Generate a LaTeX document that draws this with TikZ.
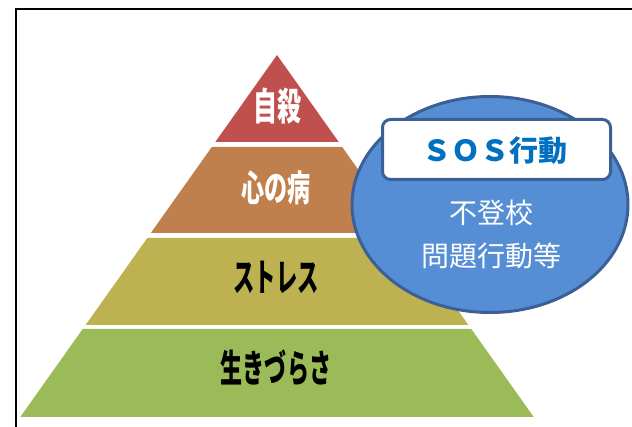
\documentclass[tikz,border=0pt]{standalone}
\usepackage{fontspec}
\usepackage{graphicx}
\newfontfamily\jp{Noto Sans CJK JP}
\definecolor{lred}{RGB}{192,80,77}
\definecolor{lorange}{RGB}{192,128,77}
\definecolor{lolive}{RGB}{190,177,82}
\definecolor{lgreen}{RGB}{155,187,89}
\definecolor{eblue}{RGB}{85,142,213}
\definecolor{edark}{RGB}{60,96,150}
\definecolor{sosblue}{RGB}{0,112,192}
\tikzset{
  lbl/.style={inner sep=0pt, font=\jp\bfseries},
  etext/.style={inner sep=0pt, font=\jp\fontsize{28}{43}\selectfont, text=white, align=center},
}
\newcommand{\cond}[2]{\scalebox{#1}[1]{#2}}
\begin{document}
\begin{tikzpicture}[x=1pt,y=-1pt]
\useasboundingbox (0,0) rectangle (632,427);
\fill[white] (0,0) rectangle (632,427);
% frame
\draw[line width=1.5pt] (16,427) -- (16,9) -- (632,9);
% pyramid layers
\fill[lred] (277,55) -- (338.7,142) -- (215.3,142) -- cycle;
\fill[lorange] (211.8,147) -- (342.2,147) -- (403.2,233) -- (150.8,233) -- cycle;
\fill[lolive] (147.3,238) -- (406.7,238) -- (468.4,325) -- (85.6,325) -- cycle;
\fill[lgreen] (82.7,329) -- (471.3,329) -- (533.7,417) -- (20.3,417) -- cycle;
% labels
\node[lbl, text=white, font=\jp\bfseries\fontsize{38}{38}\selectfont] (jisatsu) at (277,106) {\cond{0.63}{自殺}};
\node[lbl, text=white, font=\jp\bfseries\fontsize{36}{36}\selectfont] (kokoro) at (276,188) {\cond{0.64}{心の病}};
\node[lbl, text=black, font=\jp\bfseries\fontsize{38}{38}\selectfont] (stress) at (276,277) {\cond{0.56}{ストレス}};
\node[lbl, text=black, font=\jp\bfseries\fontsize{38}{38}\selectfont] (ikizurasa) at (276,368) {\cond{0.58}{生きづらさ}};
% SOS ellipse
\draw[fill=eblue, draw=edark, line width=3pt] (490,204.5) ellipse [x radius=138, y radius=108];
\node[draw=edark, fill=white, line width=3pt, rounded corners=8pt, minimum width=228pt, minimum height=60pt, inner sep=0pt] (sosbox) at (496.5,149.5) {};
\node[inner sep=0pt, text=sosblue, font=\jp\bfseries\fontsize{29}{29}\selectfont] (sos) at (495,151) {ＳＯＳ行動};
\node[etext] (futoko) at (491,234) {不登校\\問題行動等};
\end{tikzpicture}
\end{document}
